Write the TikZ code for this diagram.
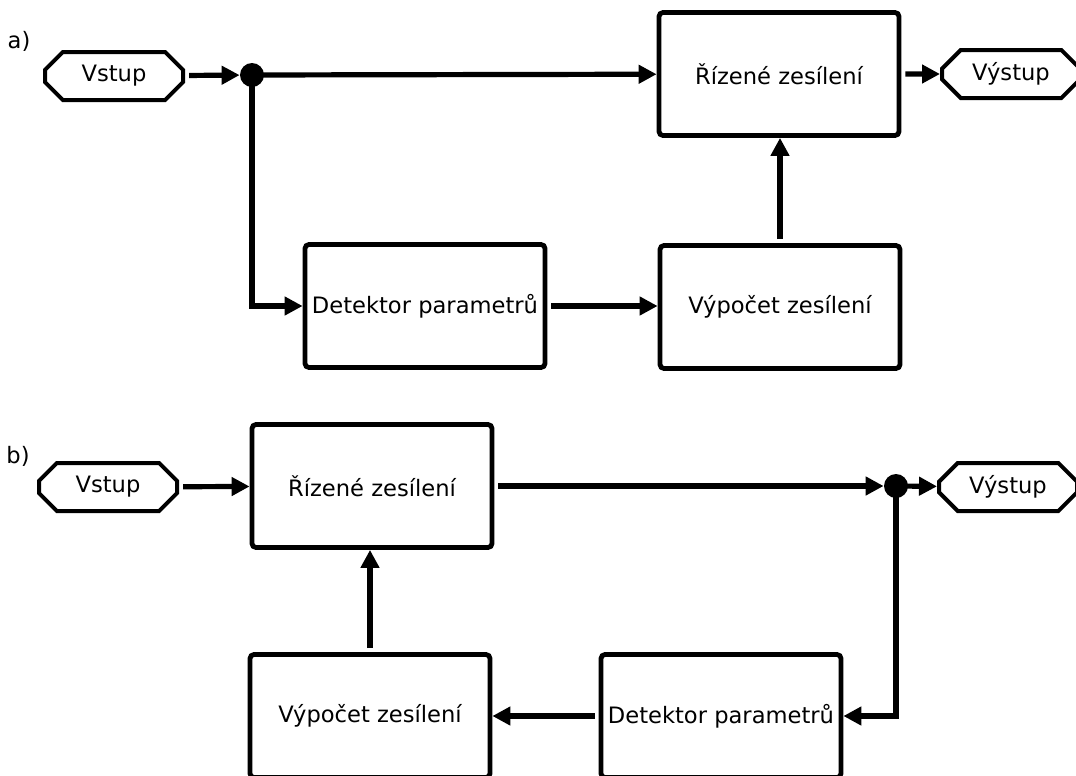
\documentclass[tikz,border=0pt]{standalone}
\usepackage{fontspec}
\setmainfont{DejaVu Sans}
\usetikzlibrary{arrows.meta}
\usetikzlibrary{shapes.misc,positioning}
\tikzset{>={Triangle[length=9pt,width=9pt]}}
\tikzset{
  blok/.style={draw,line width=2.4pt,rounded corners=2pt,minimum width=120pt,minimum height=61.5pt,inner sep=0pt},
  port/.style={draw,chamfered rectangle,chamfered rectangle xsep=6.5pt,line width=2pt,minimum width=69pt,minimum height=24pt,inner sep=0pt},
  tecka/.style={circle,fill,inner sep=0pt,minimum size=12pt},
  spoj/.style={->,line width=2.6pt,shorten <=2pt},
  vetev/.style={->,line width=2.6pt},
  pismeno/.style={inner sep=0pt}
}

\begin{document}
\begin{tikzpicture}[x=0.5pt,y=-0.5pt,every node/.style={font=\fontsize{11.3pt}{13.5pt}\selectfont}]

\useasboundingbox (0,0) rectangle (1076,776);
\clip (0,0) rectangle (1076,776);

% a)
  \node[pismeno] (la) at (19,41) {a)};
  \node[port] (vina) at (114,76) {Vstup};
  \node[tecka] (dota) at (252,75) {};
  \node[blok] (ra) at (779,74) {Řízené zesílení};
  \node[port] (vouta) at (1011,74) {Výstup};
  \node[blok] (da) at (425,306) {Detektor parametrů};
  \node[blok] (va) at (780,307) {Výpočet zesílení};
  \draw[spoj](vina)--(dota);
  \draw[vetev](dota.center)--(ra);
  \draw[spoj](ra)--(vouta);
  \draw[vetev](dota.center)|-(da);
  \draw[spoj](da.east)--(da.east-|va.west);
  \draw[spoj](va.north)--(va.north|-ra.south);

% b)
  \node[pismeno] (lb) at (18,456) {b)};
  \node[port] (vinb) at (108,487) {Vstup};
  \node[blok] (rb) at (372,486) {Řízené zesílení};
  \node[tecka] (dotb) at (896,486) {};
  \node[port] (voutb) at (1008,487) {Výstup};
  \node[blok] (db) at (721,716) {Detektor parametrů};
  \node[blok] (vb) at (370,716) {Výpočet zesílení};
  \draw[spoj](vinb)--(rb);
  \draw[spoj](rb)--(dotb);
  \draw[vetev](dotb.center)--(voutb);
  \draw[vetev](dotb.center)|-(db);
  \draw[spoj](db)--(vb);
  \draw[spoj](vb.north)--(vb.north|-rb.south);

\end{tikzpicture}
\end{document}
